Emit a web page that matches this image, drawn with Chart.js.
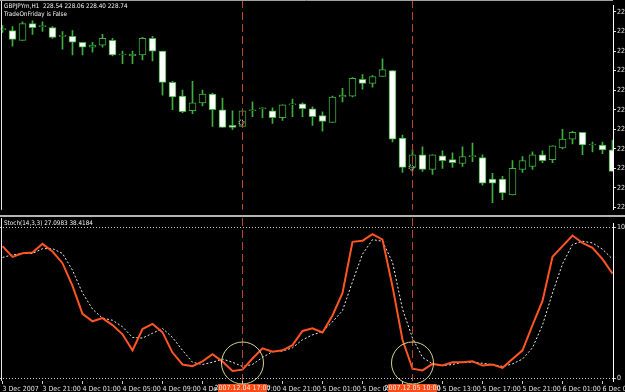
<!DOCTYPE html>
<html>
<head>
<meta charset="utf-8">
<script src="https://cdn.jsdelivr.net/npm/chart.js@4.4.0/dist/chart.umd.min.js"></script>
<style>
html, body { margin: 0; padding: 0; background: #000; overflow: hidden; }
#wrap { position: relative; width: 625px; height: 392px; overflow: hidden; background: #000; }
#topBox { position: absolute; left: 0; top: 0; width: 660px; height: 215px; }
#sep { position: absolute; left: 0; top: 215px; width: 625px; height: 2px; background: #b4b4b4; }
#botBox { position: absolute; left: 0; top: 218px; width: 660px; height: 174px; }
.hdr { position: absolute; left: 4px; color: #f4f4f4; font-size: 6.3px; line-height: 8px; white-space: pre;
       font-family: 'Liberation Sans Narrow', 'DejaVu Sans Condensed', 'Liberation Sans', sans-serif; }
</style>
</head>
<body>
<div id="wrap">
  <div id="topBox"><canvas id="priceChart"></canvas></div>
  <div id="sep"></div>
  <div id="botBox"><canvas id="stochChart"></canvas></div>
  <div class="hdr" style="top:2px">GBPJPYm,H1  228.54 228.06 228.40 228.74</div>
  <div class="hdr" style="top:10px">TradeOnFriday is False</div>
  <div class="hdr" style="top:219px">Stoch(14,3,3) 27.0983 38.4184</div>
</div>
<script>
// H1 bars, first bar = 3 Dec 2007 17:00
const opens = [229.72, 229.71, 229.61, 229.78, 229.75, 229.74, 229.65, 229.65, 229.59, 229.54,
    229.56, 229.61, 229.46, 229.45, 229.46, 229.63, 229.50, 229.18, 229.04, 228.89,
    228.97, 229.06, 228.90, 228.74, 228.73, 228.89, 228.91, 228.89, 228.82, 228.95,
    228.96, 228.91, 228.84, 228.77, 229.03, 229.04, 229.21, 229.17, 229.24, 229.30,
    228.61, 228.31, 228.44, 228.29, 228.43, 228.39, 228.35, 228.42, 228.41, 228.19,
    228.19, 228.03, 228.29, 228.32, 228.44, 228.39, 228.51, 228.60, 228.67, 228.54,
    228.54, 228.49];
const highs = [229.76, 229.75, 229.80, 229.81, 229.80, 229.75, 229.70, 229.71, 229.59, 229.59,
    229.67, 229.63, 229.50, 229.50, 229.64, 229.65, 229.50, 229.19, 229.10, 229.19,
    229.10, 229.07, 229.02, 228.89, 228.89, 228.98, 228.92, 228.92, 228.95, 229.01,
    228.97, 228.93, 228.88, 229.04, 229.12, 229.23, 229.26, 229.25, 229.42, 229.30,
    228.64, 228.49, 228.52, 228.44, 228.48, 228.46, 228.52, 228.56, 228.44, 228.25,
    228.22, 228.38, 228.42, 228.47, 228.48, 228.53, 228.70, 228.68, 228.67, 228.57,
    228.57, 228.59];
const lows = [229.69, 229.55, 229.61, 229.67, 229.70, 229.63, 229.52, 229.46, 229.46, 229.49,
    229.54, 229.45, 229.37, 229.37, 229.41, 229.40, 229.05, 228.90, 228.87, 228.86,
    228.94, 228.73, 228.72, 228.70, 228.73, 228.83, 228.82, 228.76, 228.79, 228.83,
    228.83, 228.74, 228.68, 228.77, 228.98, 229.03, 229.11, 229.13, 229.24, 228.57,
    228.26, 228.27, 228.27, 228.24, 228.30, 228.31, 228.32, 228.37, 228.13, 227.95,
    227.98, 228.03, 228.26, 228.29, 228.36, 228.36, 228.50, 228.55, 228.44, 228.47,
    228.45, 228.27];
const closes = [229.72, 229.62, 229.78, 229.74, 229.75, 229.64, 229.65, 229.59, 229.54, 229.56,
    229.63, 229.46, 229.46, 229.47, 229.63, 229.50, 229.18, 229.03, 228.88, 228.97,
    229.06, 228.90, 228.72, 228.72, 228.89, 228.89, 228.91, 228.82, 228.95, 228.95,
    228.91, 228.83, 228.78, 229.03, 229.05, 229.22, 229.17, 229.24, 229.31, 228.60,
    228.31, 228.44, 228.29, 228.44, 228.38, 228.36, 228.42, 228.42, 228.15, 228.15,
    228.05, 228.30, 228.38, 228.44, 228.38, 228.53, 228.60, 228.67, 228.54, 228.54,
    228.49, 228.27];

// Stochastic(14,3,3): main (%K) and signal (%D)
const stochMain = [87.4, 80.3, 82.7, 83.1, 88.9, 83.8, 76.1, 61.1, 42.5, 37.6,
    39.7, 35.1, 29.0, 18.4, 32.5, 35.9, 30.3, 16.9, 9.0, 7.9,
    11.1, 15.8, 10.9, 4.7, 5.6, 13.0, 19.7, 17.5, 18.4, 21.8,
    31.2, 33.0, 30.2, 41.5, 56.4, 90.2, 91.0, 95.3, 91.7, 60.7,
    25.4, 6.2, 5.1, 9.4, 8.3, 10.5, 10.5, 11.1, 8.3, 9.0,
    6.8, 12.6, 18.4, 35.1, 51.1, 80.3, 87.4, 94.4, 89.5, 86.3,
    78.8, 69.2];
const stochSignal = [79.9, 81.6, 82.5, 82.5, 85.7, 85.7, 82.5, 71.4, 56.4, 45.7,
    39.7, 38.3, 34.0, 26.9, 26.5, 29.7, 32.9, 26.9, 18.4, 10.5,
    9.0, 10.5, 12.6, 10.5, 7.7, 9.0, 13.7, 17.5, 17.9, 20.1,
    25.4, 28.6, 30.8, 37.2, 44.7, 63.9, 82.1, 91.7, 90.6, 76.7,
    45.7, 26.5, 13.7, 9.4, 8.3, 9.0, 10.5, 10.5, 9.8, 9.0,
    7.7, 9.4, 12.6, 20.1, 35.1, 56.4, 75.6, 88.5, 90.6, 89.5,
    85.3, 78.8];

const tickBars = [0, 4, 8, 12, 16, 20, 24, 28, 32, 36, 40, 44, 48, 52, 56, 60];
const tickLabels = ['3 Dec 2007', '3 Dec 21:00', '4 Dec 01:00', '4 Dec 05:00', '4 Dec 09:00',
    '4 Dec 13:00', '4 Dec 17:00', '4 Dec 21:00', '5 Dec 01:00', '5 Dec 05:00', '5 Dec 09:00',
    '5 Dec 13:00', '5 Dec 17:00', '5 Dec 21:00', '6 Dec 01:00', '6 Dec 05:00'];
const priceTicks = [227.9, 228.1, 228.3, 228.5, 228.7, 228.9, 229.1, 229.3, 229.5, 229.7, 229.9];
const stochLevels = [0, 100];

// vertical lines / circled crossings
const markerBars = [24, 41];
const markerLabels = ['2007.12.04 17:00', '2007.12.05 10:00'];
const markerPrices = [228.77, 228.31];
const circleLevel = 10;

const tickFont = { family: "'Liberation Sans Narrow', 'DejaVu Sans Condensed', 'Liberation Sans', sans-serif", size: 7 };
const green = '#3fae3f';

var bullBodies = [], bearBodies = [], wicks = [];
for (var i = 0; i < opens.length; i++) {
    var lo = Math.min(opens[i], closes[i]), hi = Math.max(opens[i], closes[i]);
    if (closes[i] < opens[i]) {
        bearBodies.push({x: i, y: [lo, hi]});
    } else {
        bullBodies.push({x: i, y: [lo, hi]});
    }
    wicks.push({x: i, y: [lows[i], highs[i]]});
}

const xRange = { min: -0.25, max: 61.05 };

function fixWidth(scale) { scale.width = 47; }

const markerLines = {
    id: 'markerLines',
    afterDatasetsDraw(chart) {
        const ctx = chart.ctx, area = chart.chartArea, x = chart.scales.x;
        ctx.save();
        ctx.strokeStyle = '#b8442a';
        ctx.lineWidth = 1;
        ctx.setLineDash([8, 4]);
        markerBars.forEach(function(b) {
            var px = x.getPixelForValue(b);
            ctx.beginPath();
            ctx.moveTo(px, 0);
            ctx.lineTo(px, area.bottom);
            ctx.stroke();
        });
        ctx.restore();
    }
};

const frame = {
    id: 'frame',
    afterDraw(chart) {
        const ctx = chart.ctx, area = chart.chartArea;
        ctx.save();
        ctx.strokeStyle = '#e8e8e8';
        ctx.lineWidth = 1;
        ctx.beginPath();
        ctx.moveTo(1.5, 0);
        ctx.lineTo(1.5, area.bottom);
        ctx.stroke();
        if (chart.canvas.id == 'priceChart') {
            ctx.strokeStyle = '#a0a0a0';
            ctx.beginPath();
            ctx.moveTo(0, 0.5);
            ctx.lineTo(area.right, 0.5);
            ctx.stroke();
            ctx.strokeStyle = '#ffffff';
            ctx.setLineDash([1, 1]);
            markerBars.forEach(function(b, k) {
                ctx.beginPath();
                ctx.arc(chart.scales.x.getPixelForValue(b) - 1, chart.scales.y.getPixelForValue(markerPrices[k]), 2.5, 0, Math.PI * 2);
                ctx.stroke();
            });
        }
        ctx.restore();
    }
};

const markerTags = {
    id: 'markerTags',
    afterDraw(chart) {
        const ctx = chart.ctx, area = chart.chartArea, x = chart.scales.x, y = chart.scales.y;
        ctx.save();
        markerBars.forEach(function(b, k) {
            var px = x.getPixelForValue(b);
            ctx.fillStyle = '#ff4a14';
            ctx.fillRect(Math.round(px) - 25, area.bottom + 3, 49, 11);
            ctx.fillStyle = '#f0f0f0';
            ctx.font = tickFont.size + 'px ' + tickFont.family;
            ctx.textAlign = 'center';
            ctx.textBaseline = 'top';
            ctx.fillText(markerLabels[k], px, area.bottom + 4);
        });
        ctx.strokeStyle = '#d4d48c';
        ctx.lineWidth = 1;
        markerBars.forEach(function(b) {
            ctx.beginPath();
            ctx.arc(x.getPixelForValue(b), y.getPixelForValue(circleLevel), 21, 0, Math.PI * 2);
            ctx.stroke();
        });
        ctx.restore();
    }
};

const priceChart = new Chart(document.getElementById('priceChart'), {
    type: 'bar',
    data: {
        datasets: [
            { data: bearBodies, backgroundColor: '#ffffff', borderColor: green, borderWidth: 1,
              barThickness: 7, grouped: false, minBarLength: 1, borderSkipped: false },
            { data: bullBodies, backgroundColor: '#000000', borderColor: green, borderWidth: 1,
              barThickness: 7, grouped: false, minBarLength: 1, borderSkipped: false },
            { data: wicks, backgroundColor: green, borderWidth: 0, barThickness: 1, grouped: false }
        ]
    },
    options: {
        responsive: true,
        maintainAspectRatio: false,
        animation: false,
        layout: { padding: 0, autoPadding: false },
        plugins: { legend: { display: false }, tooltip: { enabled: false } },
        scales: {
            x: { type: 'linear', min: xRange.min, max: xRange.max, offset: false, display: false },
            y: {
                position: 'right',
                min: 227.877,
                max: 229.969,
                afterFit: fixWidth,
                afterBuildTicks: function(scale) {
                    scale.ticks = priceTicks.map(function(v) { return {value: v}; });
                },
                grid: { drawOnChartArea: false, color: '#e0e0e0', tickLength: 3 },
                border: { color: '#ffffff' },
                ticks: {
                    color: '#e0e0e0', font: tickFont, padding: 1,
                    callback: function(v) { return v.toFixed(2); }
                }
            }
        }
    },
    plugins: [markerLines, frame]
});

const stochChart = new Chart(document.getElementById('stochChart'), {
    type: 'line',
    data: {
        datasets: [
            { data: stochMain.map(function(v, i) { return {x: i, y: v}; }),
              borderColor: '#ff5424', borderWidth: 2, pointRadius: 0, tension: 0 },
            { data: stochSignal.map(function(v, i) { return {x: i, y: v}; }),
              borderColor: '#e8e8e8', borderWidth: 1, borderDash: [2, 2], pointRadius: 0, tension: 0 }
        ]
    },
    options: {
        responsive: true,
        maintainAspectRatio: false,
        animation: false,
        layout: { padding: 0, autoPadding: false },
        plugins: { legend: { display: false }, tooltip: { enabled: false } },
        scales: {
            x: {
                type: 'linear', min: xRange.min, max: xRange.max, offset: false,
                afterFit: function(scale) { scale.height = 11; },
                afterBuildTicks: function(scale) {
                    scale.ticks = tickBars.map(function(v) { return {value: v}; });
                },
                grid: { drawOnChartArea: false, color: '#d0d0d0', tickLength: 3 },
                border: { display: false },
                ticks: {
                    color: '#e0e0e0', font: tickFont, padding: 1, align: 'start',
                    autoSkip: false, maxRotation: 0,
                    callback: function(v) {
                        var k = tickBars.indexOf(v);
                        return k >= 0 ? tickLabels[k] : '';
                    }
                }
            },
            y: {
                position: 'right',
                min: -1.923,
                max: 102.564,
                afterFit: fixWidth,
                afterBuildTicks: function(scale) {
                    scale.ticks = stochLevels.map(function(v) { return {value: v}; });
                },
                grid: { color: '#c8c8c8', tickLength: 3 },
                border: { color: '#ffffff', dash: [1, 2] },
                ticks: { color: '#e0e0e0', font: tickFont, padding: 1 }
            }
        }
    },
    plugins: [markerLines, frame, markerTags]
});
</script>
</body>
</html>
